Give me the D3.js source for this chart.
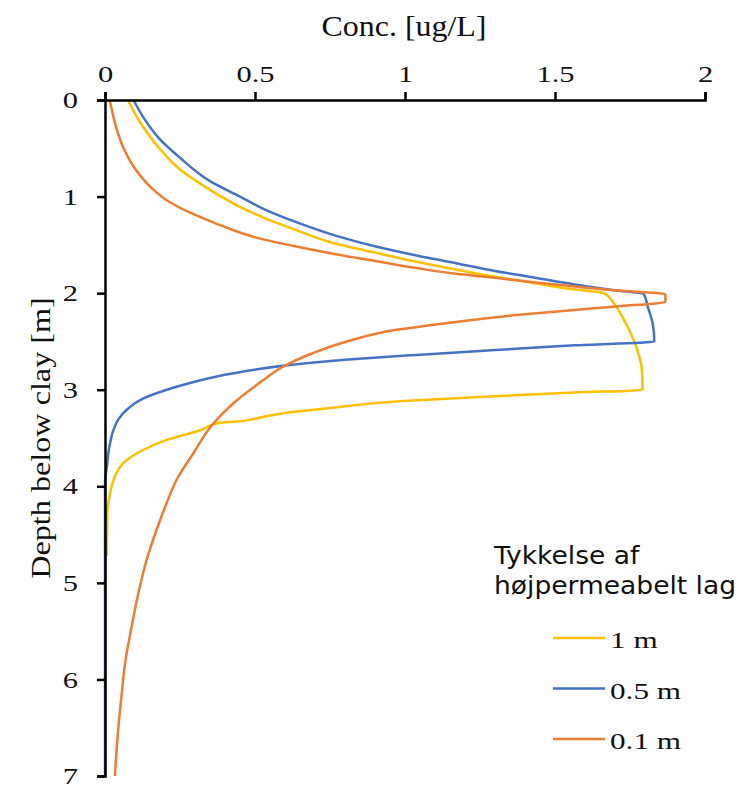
<!DOCTYPE html>
<html>
<head>
<meta charset="utf-8">
<script src="https://cdn.jsdelivr.net/npm/d3@7"></script>
<style>
  body { margin: 0; background: #fff; }
</style>
</head>
<body>
<div id="chart"></div>
<script>
// depth below clay [m] and concentration [ug/L]
const depth1m = [0, 0.22, 0.5, 0.72, 0.93, 1.09, 1.22, 1.35, 1.48, 1.58, 1.67, 1.75, 1.82, 1.89, 1.96, 2.0,
  2.11, 2.32, 2.55, 2.78, 3.0, 3.03, 3.07, 3.12, 3.2, 3.24, 3.3, 3.33, 3.34, 3.42, 3.52, 3.64, 3.76, 3.9, 4.07, 4.28, 4.72];
const conc1m = [0.076, 0.115, 0.181, 0.25, 0.35, 0.44, 0.53, 0.64, 0.76, 0.9, 1.03, 1.16, 1.28, 1.42, 1.56, 1.664,
  1.697, 1.737, 1.77, 1.789, 1.792, 1.565, 1.28, 0.98, 0.72, 0.6, 0.5, 0.44, 0.385, 0.317, 0.206, 0.117, 0.061, 0.033, 0.017, 0.008, 0.006];

const depth05m = [0, 0.18, 0.4, 0.59, 0.84, 1.0, 1.14, 1.27, 1.41, 1.52, 1.61, 1.69, 1.77, 1.84, 1.91, 1.97, 2.01,
  2.14, 2.32, 2.5, 2.54, 2.59, 2.64, 2.69, 2.75, 2.83, 2.93, 3.0, 3.09, 3.2, 3.31, 3.42, 3.55, 3.8, 3.96, 7.0];
const conc05m = [0.095, 0.128, 0.181, 0.247, 0.35, 0.45, 0.537, 0.642, 0.774, 0.906, 1.038, 1.17, 1.3, 1.433, 1.565, 1.697, 1.796,
  1.809, 1.826, 1.831, 1.565, 1.3, 1.038, 0.8, 0.6, 0.428, 0.283, 0.206, 0.128, 0.075, 0.044, 0.028, 0.017, 0.006, 0, 0];

const depth01m = [0, 0.27, 0.5, 0.72, 0.91, 1.04, 1.17, 1.29, 1.43, 1.52, 1.6, 1.67, 1.74, 1.8, 1.84, 1.89, 1.93, 1.97, 2.01,
  2.09, 2.14, 2.17, 2.23, 2.31, 2.38, 2.5, 2.62, 2.78, 2.9, 3.14, 3.35, 3.66, 3.93, 4.17, 4.45, 4.76, 5.11, 5.45, 5.83, 6.14, 6.52, 7.0];
const conc01m = [0.016, 0.036, 0.062, 0.102, 0.155, 0.207, 0.286, 0.379, 0.511, 0.642, 0.774, 0.906, 1.038, 1.17, 1.3, 1.433, 1.565, 1.697, 1.868,
  1.868, 1.694, 1.583, 1.361, 1.139, 0.972, 0.806, 0.694, 0.583, 0.528, 0.428, 0.361, 0.294, 0.239, 0.206, 0.172, 0.139, 0.111, 0.089, 0.067, 0.056, 0.044, 0.033];

const xTicks = [0, 0.5, 1, 1.5, 2];
const yTicks = [0, 1, 2, 3, 4, 5, 6, 7];
const seriesNames = ["1 m", "0.5 m", "0.1 m"];
const seriesColors = ["#FFC000", "#4472C4", "#ED7D31"];

const W = 745, H = 786;
const svg = d3.select("#chart").append("svg").attr("width", W).attr("height", H);

const x = d3.scaleLinear().domain([0, 2]).range([105, 705]);
const y = d3.scaleLinear().domain([0, 7]).range([100, 776]);

const serif = "'Liberation Serif', 'Times New Roman', serif";
const sans = "'DejaVu Sans', Verdana, sans-serif";

// series
const series = [
  conc1m.map((c, i) => [c, depth1m[i]]),
  conc05m.map((c, i) => [c, depth05m[i]]),
  conc01m.map((c, i) => [c, depth01m[i]])
];
// depth only ever grows along a profile, so a y-monotone curve keeps the corners without overshoot
const line = d3.line().x(d => x(d[0])).y(d => y(d[1])).curve(d3.curveMonotoneY);

series.forEach((s, i) => {
  svg.append("path")
    .datum(s)
    .attr("fill", "none")
    .attr("stroke", seriesColors[i])
    .attr("stroke-width", 2.5)
    .attr("stroke-linejoin", "round")
    .attr("d", line);
});

// axes
const xAxis = svg.append("g")
  .attr("transform", "translate(0," + y(0) + ")")
  .call(d3.axisTop(x).tickValues(xTicks).tickSize(8).tickFormat(d3.format("")));
const yAxis = svg.append("g")
  .attr("transform", "translate(" + x(0) + ",0)")
  .call(d3.axisLeft(y).tickValues(yTicks).tickSize(8).tickFormat(d3.format("d")));

[xAxis, yAxis].forEach(g => {
  g.attr("font-family", serif).attr("font-size", 24);
  g.select(".domain").attr("stroke", "#000").attr("stroke-width", 2.5);
  g.selectAll(".tick line").attr("stroke", "#000").attr("stroke-width", 2.5);
  g.selectAll(".tick text").attr("fill", "#111");
});
// the original's serif digits are wider than Liberation Serif, so stretch them a bit
xAxis.selectAll(".tick text").attr("y", 0).attr("transform", "translate(0,-18) scale(1.27,1)");
yAxis.selectAll(".tick text").attr("x", 0).attr("transform", "translate(-27,0) scale(1.27,1)");

// axis titles
svg.append("text")
  .attr("transform", "translate(404,36) scale(1.065,1)")
  .attr("text-anchor", "middle")
  .attr("font-family", serif).attr("font-size", 30).attr("fill", "#111")
  .text("Conc. [ug/L]");

svg.append("text")
  .attr("transform", "translate(50,438) rotate(-90) scale(1.15,1)")
  .attr("text-anchor", "middle")
  .attr("font-family", serif).attr("font-size", 28).attr("fill", "#111")
  .text("Depth below clay [m]");

// legend
const leg = svg.append("g");
leg.append("text")
  .attr("transform", "translate(494,564) scale(1.04,1)")
  .attr("font-family", sans).attr("font-size", 25.5).attr("fill", "#111")
  .text("Tykkelse af");
leg.append("text")
  .attr("transform", "translate(494,594) scale(1.04,1)")
  .attr("font-family", sans).attr("font-size", 25.5).attr("fill", "#111")
  .text("højpermeabelt lag");

const legY = d3.scalePoint().domain(seriesNames).range([638, 739]);
seriesNames.forEach((name, i) => {
  leg.append("line")
    .attr("x1", 553).attr("x2", 605)
    .attr("y1", legY(name)).attr("y2", legY(name))
    .attr("stroke", seriesColors[i]).attr("stroke-width", 2.5);
  leg.append("text")
    .attr("transform", "translate(610," + (legY(name) + 10) + ") scale(1.3,1)")
    .attr("font-family", serif).attr("font-size", 24).attr("fill", "#111")
    .text(name);
});
</script>
</body>
</html>
